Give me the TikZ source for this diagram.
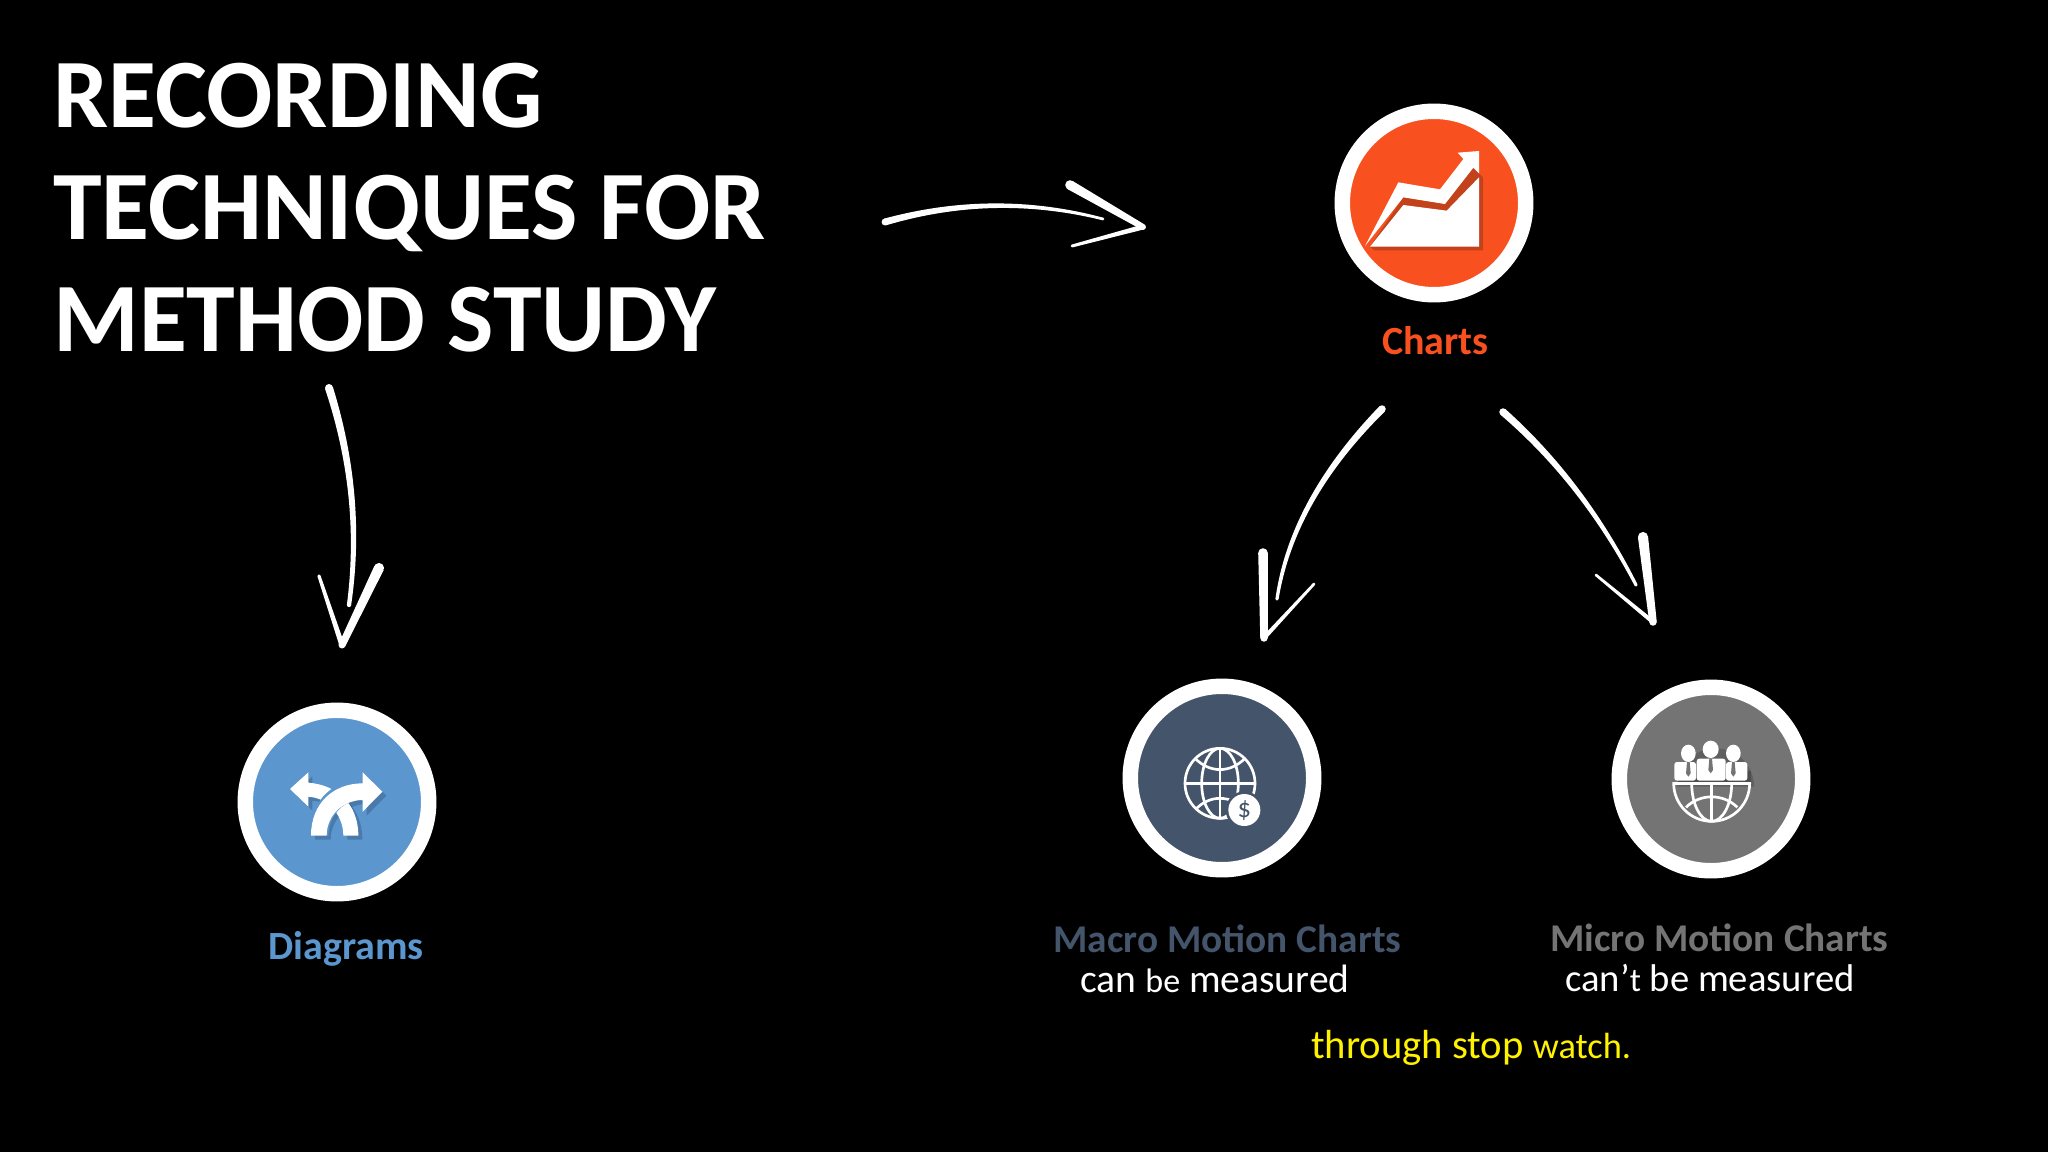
\documentclass[tikz,border=0pt]{standalone}
\usepackage{fontspec}
\setmainfont{Carlito}
\usetikzlibrary{calc}
\definecolor{chartsc}{HTML}{F9501F}
\definecolor{chartsd}{HTML}{C2421C}
\definecolor{diagc}{HTML}{5B96CF}
\definecolor{macroc}{HTML}{44546A}
\definecolor{microc}{HTML}{757475}
\tikzset{
  disc/.style={circle,inner sep=0pt,outer sep=0pt,minimum size=137.6pt,line width=11.6pt,draw=white,fill=#1},
  label/.style={inner sep=0pt,anchor=base west,font=\fontsize{#1}{#1}\selectfont},
  boldlabel/.style={inner sep=0pt,anchor=base west,font=\fontsize{#1}{#1}\selectfont\bfseries},
  zoomed/.style={x=.25pt,y=-.25pt},
  soft/.style={fill=black,fill opacity=.18,draw=none}
}
% tapered pen stroke: from A (half width wa) by way of quadratic control C to B (half width wb)
\newcommand{\penstroke}[5]{%
  \coordinate (pa) at ($(#1)!#4!90:(#2)$);
  \coordinate (qa) at ($(#1)!#4!-90:(#2)$);
  \coordinate (pb) at ($(#3)!#5!-90:(#2)$);
  \coordinate (qb) at ($(#3)!#5!90:(#2)$);
  \coordinate (pc) at ($(#2)!{(#4+#5)/2}!90:(#3)$);
  \coordinate (qc) at ($(#2)!{(#4+#5)/2}!-90:(#3)$);
  \fill[white] (pa) .. controls ($(pa)!.667!(pc)$) and ($(pb)!.667!(pc)$) .. (pb)
    -- (qb) .. controls ($(qb)!.667!(qc)$) and ($(qa)!.667!(qc)$) .. (qa) -- cycle;
  \fill[white] (#1) circle[radius=#4];
  \fill[white] (#3) circle[radius=#5];
}
\begin{document}
\begin{tikzpicture}[x=.75pt,y=-.75pt]
\useasboundingbox (0,0) rectangle (2048,1152);
\fill[black] (0,0) rectangle (2048,1152);

% ---- title
\node[inner sep=0pt,anchor=north west,align=left,text=white,
      font=\fontsize{73.6}{84}\selectfont\bfseries] (title) at (53,63)
  {RECORDING\\TECHNIQUES FOR\\METHOD STUDY};

% ---- discs
\node[disc=chartsc] (charts) at (1434,203) {};
\node[disc=diagc]   (diag)   at (337,802) {};
\node[disc=macroc]  (macro)  at (1222,778) {};
\node[disc=microc]  (micro)  at (1711,779) {};

% ---- labels
\node[boldlabel=30,text=chartsc] (lcharts) at (1382,354) {Charts};
\node[boldlabel=30,text=diagc] (ldiag) at (268,959) {Diagrams};
\node[boldlabel=29.5,text=macroc] (lmacro) at (1053,952) {Macro Motion Charts};
\node[boldlabel=29.5,text=microc] (lmicro) at (1550,951) {Micro Motion Charts};
\node[label=29.7,text=white] (can) at (1080,992) {can {\fontsize{25.5}{25.5}\selectfont be} measured};
\node[label=29,text=white] (cant) at (1565,991) {can’{\fontsize{25}{25}\selectfont t} be measured};
\node[label=30.5,text=yellow] (stop) at (1311,1058) {through stop {\fontsize{27.3}{27.3}\selectfont watch.}};

% ---- arrow: title to charts
\coordinate (a1) at (885,222); \coordinate (a1c) at (994,191); \coordinate (a1e) at (1103,219);
\coordinate (a1b) at (1070,185); \coordinate (a1t) at (1143,227); \coordinate (a1n) at (1072,246);
\penstroke{a1}{a1c}{a1e}{2.6pt}{1pt}
\penstroke{a1b}{$(a1b)!.5!(a1t)$}{a1t}{3.6pt}{2.2pt}
\penstroke{a1n}{$(a1n)!.5!(a1t)$}{a1t}{1.1pt}{1.9pt}

% ---- arrow: title to diagrams
\coordinate (a2) at (329,388); \coordinate (a2c) at (364,497); \coordinate (a2e) at (349,605);
\coordinate (a2b) at (379,568); \coordinate (a2t) at (342,645); \coordinate (a2n) at (319,576);
\penstroke{a2}{a2c}{a2e}{3pt}{1.6pt}
\penstroke{a2b}{$(a2b)!.5!(a2t)$}{a2t}{3.8pt}{2.6pt}
\penstroke{a2n}{$(a2n)!.5!(a2t)$}{a2t}{1.2pt}{2pt}

% ---- arrow: charts to macro
\coordinate (a3) at (1382,409); \coordinate (a3c) at (1292,500); \coordinate (a3e) at (1277,599);
\coordinate (a3b) at (1263,553); \coordinate (a3t) at (1264,638); \coordinate (a3n) at (1314,584);
\penstroke{a3}{a3c}{a3e}{2.8pt}{1.2pt}
\penstroke{a3b}{$(a3b)!.5!(a3t)$}{a3t}{3.6pt}{2.8pt}
\penstroke{a3n}{$(a3n)!.5!(a3t)$}{a3t}{1pt}{1.6pt}

% ---- arrow: charts to micro
\coordinate (a4) at (1503,412); \coordinate (a4c) at (1583,482); \coordinate (a4e) at (1636,585);
\coordinate (a4b) at (1643,537); \coordinate (a4t) at (1653,622); \coordinate (a4n) at (1596,575);
\penstroke{a4}{a4c}{a4e}{2.8pt}{1.2pt}
\penstroke{a4b}{$(a4b)!.5!(a4t)$}{a4t}{3.8pt}{2.8pt}
\penstroke{a4n}{$(a4n)!.5!(a4t)$}{a4t}{1pt}{1.6pt}

% ---- chart icon
\begin{scope}[shift={(1300,90)},zoomed]
  \fill[chartsd] (210,470) -- (310,322) -- (435,342) -- (520,233) -- (549,262) -- (549,481) -- (222,481) -- cycle;
  \fill[white] (195,468) -- (295,277) -- (420,298) -- (490,207) -- (473,188) -- (537,183)
     -- (537,250) -- (520,233) -- (435,342) -- (310,322) -- cycle;
  \fill[white] (210,470) -- (310,345) -- (440,362) -- (537,262) -- (537,470) -- cycle;
\end{scope}

% ---- diverging arrows icon
\begin{scope}[shift={(220,690)},zoomed]
  \begin{scope}[shift={(12,12)}]
    \fill[soft] (273,437) .. controls (273,340) and (340,280) .. (428,280) -- (428,247) -- (487,305) -- (428,365) -- (428,330)
      .. controls (370,330) and (320,375) .. (320,437) -- cycle;
    \fill[soft] (210,297) -- (265,247) -- (265,278) .. controls (350,285) and (415,340) .. (415,437) -- (370,437)
      .. controls (370,380) and (330,325) .. (265,320) -- (265,350) -- cycle;
  \end{scope}
  \fill[white] (210,297) -- (265,247) -- (265,278) .. controls (350,285) and (415,340) .. (415,437) -- (370,437)
      .. controls (370,380) and (330,325) .. (265,320) -- (265,350) -- cycle;
  \draw[diagc,line width=2.5pt] (273,437) .. controls (273,340) and (340,280) .. (400,280);
  \draw[diagc,line width=2.5pt] (400,330) .. controls (370,330) and (320,375) .. (320,437);
  \fill[white] (273,437) .. controls (273,340) and (340,280) .. (428,280) -- (428,247) -- (487,305) -- (428,365) -- (428,330)
      .. controls (370,330) and (320,375) .. (320,437) -- cycle;
\end{scope}

% ---- globe with dollar icon
\begin{scope}[shift={(1100,670)},zoomed]
  \draw[white,line width=2pt] (360,340) ellipse[x radius=105,y radius=105];
  \draw[white,line width=2pt] (360,340) ellipse[x radius=55,y radius=105];
  \draw[white,line width=2pt] (360,235) -- (360,445);
  \draw[white,line width=2pt] (255,340) -- (465,340);
  \draw[white,line width=2pt] (285,265) .. controls (330,310) and (390,310) .. (435,265);
  \draw[white,line width=2pt] (290,415) .. controls (330,375) and (390,375) .. (430,415);
  \fill[macroc] (433,420) circle[radius=56];
  \fill[white] (433,420) circle[radius=48];
  \node[inner sep=0pt,text=macroc,font=\fontsize{20}{20}\selectfont] (dollar) at (433,422) {\$};
\end{scope}

% ---- people on half globe icon
\begin{scope}[shift={(1590,670)},zoomed]
  \fill[soft] (262,350) -- (492,350) arc[start angle=0,end angle=-180,radius=115] -- cycle;
  \fill[soft] (265,302) rectangle (484,344);
  \fill[white] (295,250) ellipse[x radius=22,y radius=26];
  \fill[white] (362,238) ellipse[x radius=24,y radius=26];
  \fill[white] (430,250) ellipse[x radius=22,y radius=26];
  \fill[white,rounded corners=2pt] (253,332) -- (253,276) -- (318,276) -- (318,332) -- cycle;
  \fill[white,rounded corners=2pt] (408,332) -- (408,276) -- (472,276) -- (472,332) -- cycle;
  \fill[white,rounded corners=2pt] (320,332) -- (320,266) -- (407,266) -- (407,332) -- cycle;
  \fill[microc] (291,276) -- (299,276) -- (302,310) -- (295,320) -- (288,310) -- cycle;
  \fill[microc] (358,266) -- (366,266) -- (369,300) -- (362,310) -- (355,300) -- cycle;
  \fill[microc] (426,276) -- (434,276) -- (437,310) -- (430,320) -- (423,310) -- cycle;
  \begin{scope}
    \clip (240,338) rectangle (490,470);
    \draw[white,line width=2pt] (365,340) circle[radius=114];
    \draw[white,line width=2pt] (365,340) ellipse[x radius=60,y radius=114];
  \end{scope}
  \draw[white,line width=2pt] (250,340) -- (480,340);
  \draw[white,line width=2pt] (365,340) -- (365,454);
  \draw[white,line width=2pt] (288,412) .. controls (330,370) and (400,370) .. (442,412);
\end{scope}
\end{tikzpicture}
\end{document}
